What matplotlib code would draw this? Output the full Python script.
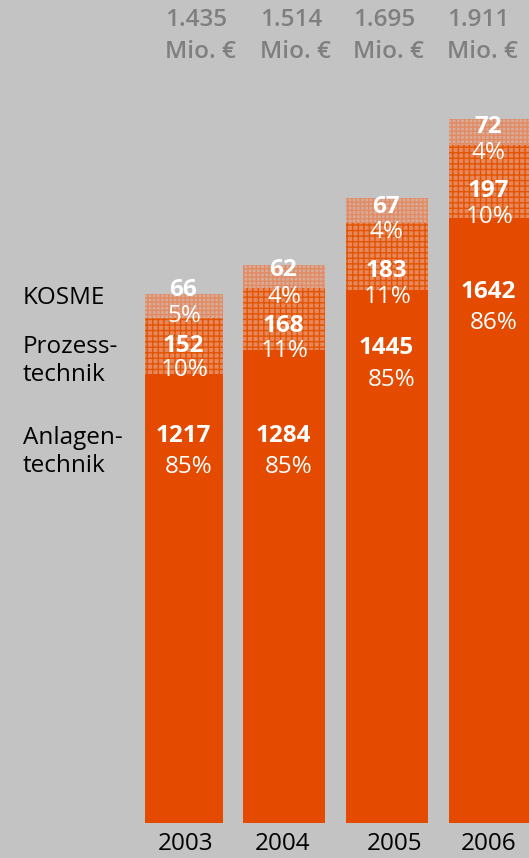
import matplotlib
matplotlib.use("Agg")
import matplotlib.pyplot as plt

years = ["2003", "2004", "2005", "2006"]
anlagen = [1217, 1284, 1445, 1642]
prozess = [152, 168, 183, 197]
kosme = [66, 62, 67, 72]
pct_anlagen = ["85%", "85%", "85%", "86%"]
pct_prozess = ["10%", "11%", "11%", "10%"]
pct_kosme = ["5%", "4%", "4%", "4%"]
totals = ["1.435", "1.514", "1.695", "1.911"]
series_names = ["KOSME", "Prozess-\ntechnik", "Anlagen-\ntechnik"]

# layout (pixel-based styling)
W, H = 529, 858
x_pos = [184, 284, 387, 489]
widths = [78, 82, 82, 80]
base_px = 823
scale = 0.3686  # px per unit
BG = "#c3c3c3"
ORANGE = "#e54b00"
FONT = ["Open Sans", "DejaVu Sans"]
FS = 17.5

fig = plt.figure(figsize=(W / 100, H / 100), dpi=100)
fig.patch.set_facecolor(BG)
ax = fig.add_axes([0, 0, 1, 1])
ax.set_facecolor(BG)
ax.set_xlim(0, W)
ymin = -(H - base_px) / scale
ymax = base_px / scale
ax.set_ylim(ymin, ymax)
ax.axis("off")

def py(px):
    # pixel y (from top) -> data y
    return (base_px - px) / scale

def off(px):
    return px / scale

bottom_p = anlagen
bottom_k = [a + p for a, p in zip(anlagen, prozess)]

ax.bar(x_pos, anlagen, width=widths, color=ORANGE, linewidth=0)
ax.bar(x_pos, prozess, bottom=bottom_p, width=widths, facecolor="#e8875c",
       edgecolor="#e25400", hatch="+++", linewidth=0)
ax.bar(x_pos, kosme, bottom=bottom_k, width=widths, facecolor="#d8ab98",
       edgecolor="#e28a62", hatch="++++", linewidth=0)

# label offsets below segment tops (px)
k_off = [(-4, 22), (5, 32), (9, 34), (8, 34)]
p_off = [(28, 52), (38, 63), (48, 74), (46, 72)]
a_off = [(62, 93), (86, 117), (58, 90), (74, 105)]

for i in range(4):
    x = x_pos[i]
    top_a = anlagen[i]
    top_p = bottom_k[i]
    top_k = bottom_k[i] + kosme[i]
    for top, val, pct, (o1, o2), dx in [
        (top_k, kosme[i], pct_kosme[i], k_off[i], 0),
        (top_p, prozess[i], pct_prozess[i], p_off[i], 1),
        (top_a, anlagen[i], pct_anlagen[i], a_off[i], 5),
    ]:
        ax.text(x - 1, top - off(o1), str(val), ha="center", va="center",
                color="white", fontsize=FS, fontweight="bold", family=FONT)
        ax.text(x + dx, top - off(o2), pct, ha="center", va="center",
                color="white", fontsize=FS, family=FONT)

# totals
tot_left = [165, 260, 353, 447]
for i in range(4):
    ax.text(tot_left[i], py(20), totals[i], ha="left", va="center",
            color="#7f7f7f", fontsize=FS, fontweight="semibold", family=FONT)
    ax.text(tot_left[i], py(52), "Mio. €", ha="left", va="center",
            color="#7f7f7f", fontsize=FS, fontweight="semibold", family=FONT)

# years
year_x = [186, 283, 394, 489]
for i in range(4):
    ax.text(year_x[i], py(844), years[i], ha="center", va="center",
            color="black", fontsize=FS, family=FONT)

# series labels
ax.text(23, py(298), series_names[0], ha="left", va="center",
        color="black", fontsize=FS, family=FONT)
ax.text(23, py(361), series_names[1], ha="left", va="center",
        color="black", fontsize=FS, family=FONT, linespacing=1.25)
ax.text(23, py(452), series_names[2], ha="left", va="center",
        color="black", fontsize=FS, family=FONT, linespacing=1.25)

fig.savefig("out.png", dpi=100, facecolor=BG)
